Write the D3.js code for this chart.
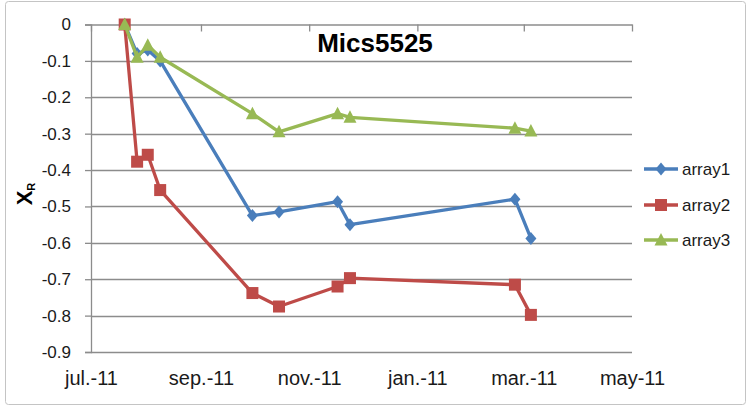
<!DOCTYPE html>
<html><head><meta charset="utf-8">
<script src="https://cdn.jsdelivr.net/npm/d3@7"></script>
<style>body{margin:0;background:#fff}svg{display:block}text{font-family:"Liberation Sans",Arial,sans-serif}</style>
</head><body>
<svg id="c" width="747" height="407"></svg>
<script>
const dates = ["2011-07-20","2011-07-27","2011-08-02","2011-08-09","2011-09-30","2011-10-15","2011-11-17","2011-11-24","2012-02-25","2012-03-05"];
const array1 = [0, -0.08, -0.07, -0.1, -0.525, -0.515, -0.487, -0.55, -0.48, -0.588];
const array2 = [0, -0.377, -0.358, -0.455, -0.738, -0.775, -0.72, -0.697, -0.715, -0.798];
const array3 = [0, -0.09, -0.057, -0.09, -0.245, -0.295, -0.245, -0.255, -0.285, -0.293];
const seriesNames = ["array1","array2","array3"];
const tickDates = ["2011-07-01","2011-09-01","2011-11-01","2012-01-01","2012-03-01","2012-05-01"];
const tickLabels = ["jul.-11","sep.-11","nov.-11","jan.-11","mar.-11","may-11"];
const yTicks = [0,-0.1,-0.2,-0.3,-0.4,-0.5,-0.6,-0.7,-0.8,-0.9];
const title = "Mics5525";

const parse = d3.timeParse("%Y-%m-%d");
const svg = d3.select("#c");
const L = 91, R = 632, T = 24.5, B = 352;
const x = d3.scaleTime().domain([parse(tickDates[0]), parse(tickDates[tickDates.length-1])]).range([L, R]);
const y = d3.scaleLinear().domain([-0.9, 0]).range([B, T]);
const colors = ["#4a7ebb","#be4b48","#98b954"];
const grid = "#8c8c8c";
const txt = "#1a1a1a";

// chart border
svg.append("rect").attr("x",5.5).attr("y",1.5).attr("width",740).attr("height",403)
  .attr("rx",3).attr("fill","#fff").attr("stroke","#c4c4c4").attr("stroke-width",1);

// gridlines
svg.append("g").selectAll("line").data(yTicks.filter(v=>v!==0)).join("line")
  .attr("x1",L).attr("x2",R).attr("y1",d=>Math.round(y(d))+0.5).attr("y2",d=>Math.round(y(d))+0.5)
  .attr("stroke",grid).attr("stroke-width",1.3);

// y axis
const yAx = svg.append("g").attr("transform",`translate(${L},0)`)
  .call(d3.axisLeft(y).tickValues(yTicks).tickSize(6).tickPadding(14)
    .tickFormat(v => v===0 ? "0" : v.toFixed(1)));
yAx.selectAll("path,line").attr("stroke",grid).attr("stroke-width",1.3);
yAx.selectAll("text").attr("font-size",17).attr("fill",txt).attr("font-family","Liberation Sans, Arial, sans-serif");

// x axis line at top (value 0) with ticks
const tDates = tickDates.map(parse);
const xAx = svg.append("g").attr("transform",`translate(0,${T})`)
  .call(d3.axisBottom(x).tickValues(tDates).tickSize(7).tickSizeOuter(0).tickFormat(""));
xAx.selectAll("path,line").attr("stroke",grid).attr("stroke-width",1.3);

// x labels at bottom
const xLab = svg.append("g").attr("transform",`translate(0,${B})`)
  .call(d3.axisBottom(x).tickValues(tDates).tickSize(0).tickPadding(19)
    .tickFormat((d,i)=>tickLabels[i]));
xLab.select(".domain").remove();
xLab.selectAll("text").attr("font-size",20).attr("fill",txt).attr("font-family","Liberation Sans, Arial, sans-serif");

// title
svg.append("text").attr("x",375).attr("y",52).attr("text-anchor","middle")
  .attr("font-size",26).attr("font-weight","bold").attr("fill","#000").text(title);

// y title
const yt = svg.append("text").attr("transform","translate(32,194) rotate(-90)")
  .attr("text-anchor","middle").attr("font-weight","bold").attr("fill","#000");
yt.append("tspan").attr("font-size",22).text("X");
yt.append("tspan").attr("font-size",11).attr("dy",3).text("R");

// markers
function marker(g, type, cx, cy, c){
  if(type===0){
    g.append("path").attr("d",`M${cx},${cy-6.5}L${cx+5.5},${cy}L${cx},${cy+6.5}L${cx-5.5},${cy}Z`).attr("fill",c);
  } else if(type===1){
    g.append("rect").attr("x",cx-6).attr("y",cy-6).attr("width",12).attr("height",12).attr("fill",c);
  } else {
    g.append("path").attr("d",`M${cx},${cy-7}L${cx+6.5},${cy+5.5}L${cx-6.5},${cy+5.5}Z`).attr("fill",c);
  }
}

const all = [array1, array2, array3];
const line = d3.line().x(d=>x(d[0])).y(d=>y(d[1]));
all.forEach((vals, si) => {
  const pts = dates.map((d,i)=>[parse(d), vals[i]]);
  const g = svg.append("g");
  g.append("path").attr("d",line(pts)).attr("fill","none").attr("stroke",colors[si])
    .attr("stroke-width",3.3).attr("stroke-linejoin","round");
  pts.forEach(p => marker(g, si, x(p[0]), y(p[1]), colors[si]));
});

// legend
const legY = [169, 205, 240];
seriesNames.forEach((n, i) => {
  const g = svg.append("g");
  g.append("line").attr("x1",644).attr("x2",678).attr("y1",legY[i]).attr("y2",legY[i])
    .attr("stroke",colors[i]).attr("stroke-width",3.3);
  marker(g, i, 661, legY[i], colors[i]);
  g.append("text").attr("x",682).attr("y",legY[i]+6).attr("font-size",17).attr("fill",txt).text(n);
});
</script>
</body></html>
